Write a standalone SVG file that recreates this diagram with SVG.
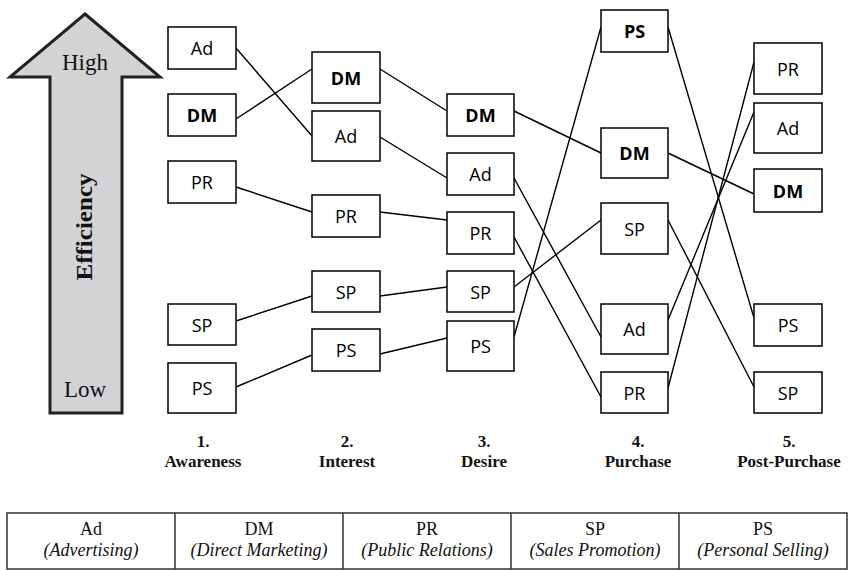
<svg xmlns="http://www.w3.org/2000/svg" width="850" height="570" viewBox="0 0 850 570">
  <style>
    .box rect { fill: #ffffff; stroke: #000000; stroke-width: 1.5; }
    .box text { font-family: "Open Sans", "Noto Sans", sans-serif; font-size: 18px; fill: #000000; text-anchor: middle; dominant-baseline: central; }
    .box.b text { font-weight: bold; }
    #connectors line { stroke: #000000; stroke-width: 1.4; }
    .serif { font-family: "Liberation Serif", "Times New Roman", serif; fill: #111111; }
    .stage { font-family: "Liberation Serif", "Times New Roman", serif; font-weight: bold; font-size: 17px; text-anchor: middle; fill: #111111; }
    .cell { font-family: "Liberation Serif", "Times New Roman", serif; font-size: 18px; text-anchor: middle; fill: #111111; }
    .cell.i { font-style: italic; }
  </style>

  <!-- efficiency scale -->
  <g id="efficiency-arrow">
    <polygon points="85,14 160,77 122,77 122,413 50,413 50,77 10,77" fill="#d3d3d5" stroke="#222222" stroke-width="3" stroke-linejoin="miter"/>
    <text class="serif" x="85" y="70" font-size="23" text-anchor="middle">High</text>
    <text class="serif" x="85" y="397" font-size="23" text-anchor="middle">Low</text>
    <text class="serif" transform="translate(92,227) rotate(-90)" font-size="24" font-weight="bold" text-anchor="middle" textLength="107" lengthAdjust="spacingAndGlyphs">Efficiency</text>
  </g>

  <!-- connectors between stages -->
  <g id="connectors">
    <line x1="236" y1="48" x2="312" y2="136"/>
    <line x1="236" y1="119" x2="312" y2="69"/>
    <line x1="236" y1="187" x2="312" y2="212"/>
    <line x1="236" y1="321" x2="312" y2="296"/>
    <line x1="236" y1="387" x2="312" y2="355"/>

    <line x1="380" y1="69" x2="447" y2="111"/>
    <line x1="380" y1="137" x2="447" y2="178"/>
    <line x1="380" y1="212" x2="447" y2="220"/>
    <line x1="380" y1="296" x2="447" y2="287"/>
    <line x1="380" y1="354" x2="447" y2="338"/>

    <line x1="514" y1="111" x2="601" y2="153"/>
    <line x1="514" y1="178" x2="601" y2="337"/>
    <line x1="514" y1="237" x2="601" y2="397"/>
    <line x1="514" y1="287" x2="601" y2="220"/>
    <line x1="514" y1="337" x2="601" y2="27"/>

    <line x1="668" y1="27" x2="754" y2="318"/>
    <line x1="668" y1="153" x2="754" y2="194"/>
    <line x1="668" y1="220" x2="754" y2="387"/>
    <line x1="668" y1="320" x2="754" y2="112"/>
    <line x1="668" y1="388" x2="754" y2="62"/>
  </g>

  <!-- stage 1: awareness -->
  <g id="s1-ad" class="box"><rect x="168" y="27" width="68" height="42"/><text x="202" y="48">Ad</text></g>
  <g id="s1-dm" class="box b"><rect x="168" y="94" width="68" height="42"/><text x="202" y="115">DM</text></g>
  <g id="s1-pr" class="box"><rect x="168" y="161" width="68" height="42"/><text x="202" y="182">PR</text></g>
  <g id="s1-sp" class="box"><rect x="168" y="304" width="68" height="41"/><text x="202" y="324.5">SP</text></g>
  <g id="s1-ps" class="box"><rect x="168" y="363" width="68" height="50"/><text x="202" y="388">PS</text></g>

  <!-- stage 2: interest -->
  <g id="s2-dm" class="box b"><rect x="312" y="52" width="68" height="51"/><text x="346" y="77.5">DM</text></g>
  <g id="s2-ad" class="box"><rect x="312" y="111" width="68" height="50"/><text x="346" y="136">Ad</text></g>
  <g id="s2-pr" class="box"><rect x="312" y="195" width="68" height="42"/><text x="346" y="216">PR</text></g>
  <g id="s2-sp" class="box"><rect x="312" y="271" width="68" height="41"/><text x="346" y="291.5">SP</text></g>
  <g id="s2-ps" class="box"><rect x="312" y="329" width="68" height="42"/><text x="346" y="350">PS</text></g>

  <!-- stage 3: desire -->
  <g id="s3-dm" class="box b"><rect x="447" y="94" width="67" height="42"/><text x="480.5" y="115">DM</text></g>
  <g id="s3-ad" class="box"><rect x="447" y="153" width="67" height="42"/><text x="480.5" y="174">Ad</text></g>
  <g id="s3-pr" class="box"><rect x="447" y="212" width="67" height="42"/><text x="480.5" y="233">PR</text></g>
  <g id="s3-sp" class="box"><rect x="447" y="271" width="67" height="41"/><text x="480.5" y="291.5">SP</text></g>
  <g id="s3-ps" class="box"><rect x="447" y="321" width="67" height="50"/><text x="480.5" y="346">PS</text></g>

  <!-- stage 4: purchase -->
  <g id="s4-ps" class="box b"><rect x="601" y="10" width="67" height="42"/><text x="634.5" y="31">PS</text></g>
  <g id="s4-dm" class="box b"><rect x="601" y="128" width="67" height="50"/><text x="634.5" y="153">DM</text></g>
  <g id="s4-sp" class="box"><rect x="601" y="203" width="67" height="51"/><text x="634.5" y="228.5">SP</text></g>
  <g id="s4-ad" class="box"><rect x="601" y="304" width="67" height="50"/><text x="634.5" y="329">Ad</text></g>
  <g id="s4-pr" class="box"><rect x="601" y="372" width="67" height="41"/><text x="634.5" y="392.5">PR</text></g>

  <!-- stage 5: post-purchase -->
  <g id="s5-pr" class="box"><rect x="754" y="43" width="68" height="51"/><text x="788" y="68.5">PR</text></g>
  <g id="s5-ad" class="box"><rect x="754" y="103" width="68" height="50"/><text x="788" y="128">Ad</text></g>
  <g id="s5-dm" class="box b"><rect x="754" y="169" width="68" height="43"/><text x="788" y="190.5">DM</text></g>
  <g id="s5-ps" class="box"><rect x="754" y="304" width="68" height="42"/><text x="788" y="325">PS</text></g>
  <g id="s5-sp" class="box"><rect x="754" y="372" width="68" height="41"/><text x="788" y="392.5">SP</text></g>

  <!-- stage captions -->
  <g id="stage-labels">
    <text class="stage" x="203" y="447">1.</text>
    <text class="stage" x="203" y="467">Awareness</text>
    <text class="stage" x="347" y="447">2.</text>
    <text class="stage" x="347" y="467">Interest</text>
    <text class="stage" x="484" y="447">3.</text>
    <text class="stage" x="484" y="467">Desire</text>
    <text class="stage" x="638" y="447">4.</text>
    <text class="stage" x="638" y="467">Purchase</text>
    <text class="stage" x="789" y="447">5.</text>
    <text class="stage" x="789" y="467">Post-Purchase</text>
  </g>

  <!-- abbreviation key -->
  <g id="legend">
    <rect x="7" y="513" width="840" height="56" fill="none" stroke="#333333" stroke-width="1.5"/>
    <line x1="175" y1="513" x2="175" y2="569" stroke="#333333" stroke-width="1.5"/>
    <line x1="343" y1="513" x2="343" y2="569" stroke="#333333" stroke-width="1.5"/>
    <line x1="511" y1="513" x2="511" y2="569" stroke="#333333" stroke-width="1.5"/>
    <line x1="679" y1="513" x2="679" y2="569" stroke="#333333" stroke-width="1.5"/>
    <text class="cell" x="91" y="535">Ad</text>
    <text class="cell i" x="91" y="556">(Advertising)</text>
    <text class="cell" x="259" y="535">DM</text>
    <text class="cell i" x="259" y="556">(Direct Marketing)</text>
    <text class="cell" x="427" y="535">PR</text>
    <text class="cell i" x="427" y="556">(Public Relations)</text>
    <text class="cell" x="595" y="535">SP</text>
    <text class="cell i" x="595" y="556">(Sales Promotion)</text>
    <text class="cell" x="763" y="535">PS</text>
    <text class="cell i" x="763" y="556">(Personal Selling)</text>
  </g>
</svg>
